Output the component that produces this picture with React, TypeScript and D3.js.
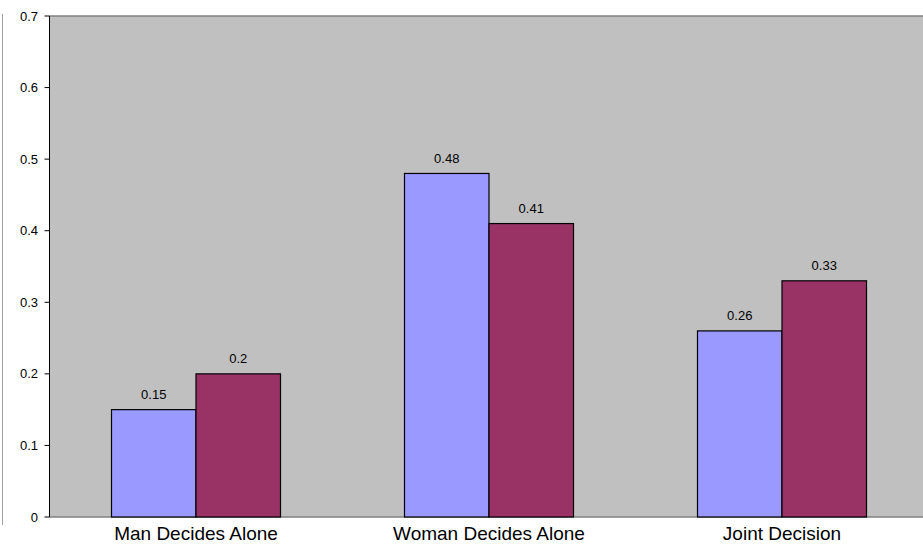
import React from "react";
import * as d3 from "d3";

const categories = ["Man Decides Alone", "Woman Decides Alone", "Joint Decision"];
const seriesA = [0.15, 0.48, 0.26];
const seriesB = [0.2, 0.41, 0.33];
const yTicks = [0, 0.1, 0.2, 0.3, 0.4, 0.5, 0.6, 0.7];

const W = 923, H = 546;
const left = 49.5, top = 16, bottom = 517, right = 928.5;

export default function App() {
  const x = d3.scaleBand<string>().domain(categories).range([left, right]).paddingInner(0).paddingOuter(0);
  const y = d3.scaleLinear().domain([0, 0.7]).range([bottom, top]);
  const bw = 84.5;
  const font = "Arial, 'Liberation Sans', sans-serif";
  const series = [
    { vals: seriesA, color: "#9999FF" },
    { vals: seriesB, color: "#993366" },
  ];
  return (
    <svg width={W} height={H} style={{ position: "absolute", left: 0, top: 0 }} fontFamily={font}>
      <rect x={0} y={0} width={W} height={H} fill="#fff" />
      <line x1={2.5} y1={14} x2={2.5} y2={525} stroke="#a0a0a0" strokeWidth={1} />
      <rect x={left} y={top} width={right - left} height={bottom - top} fill="#C0C0C0" />
      <line x1={left} y1={top} x2={W} y2={top} stroke="#808080" strokeWidth={1.5} />
      <line x1={left} y1={bottom} x2={W} y2={bottom} stroke="#808080" strokeWidth={1.5} />
      {categories.map((c, i) => {
        const cx = (x(c) as number) + x.bandwidth() / 2;
        return (
          <g key={c}>
            {series.map((s, j) => {
              const bx = cx - bw + j * bw;
              const v = s.vals[i];
              return (
                <g key={j}>
                  <rect x={bx} y={y(v)} width={bw} height={bottom - y(v)} fill={s.color} stroke="#000" strokeWidth={1.2} />
                  <text x={bx + bw / 2} y={y(v) - 10.5} textAnchor="middle" fontSize={13} fill="#000">{String(v)}</text>
                </g>
              );
            })}
            <text x={cx} y={540} textAnchor="middle" fontSize={19} fill="#000">{c}</text>
          </g>
        );
      })}
      <line x1={left} y1={top} x2={left} y2={bottom} stroke="#000" strokeWidth={1} />
      {yTicks.map((t) => (
        <g key={t}>
          <line x1={left - 5} y1={y(t)} x2={left} y2={y(t)} stroke="#000" />
          <text x={38} y={y(t) + 4.6} textAnchor="end" fontSize={13} fill="#000">{String(t)}</text>
        </g>
      ))}
    </svg>
  );
}
